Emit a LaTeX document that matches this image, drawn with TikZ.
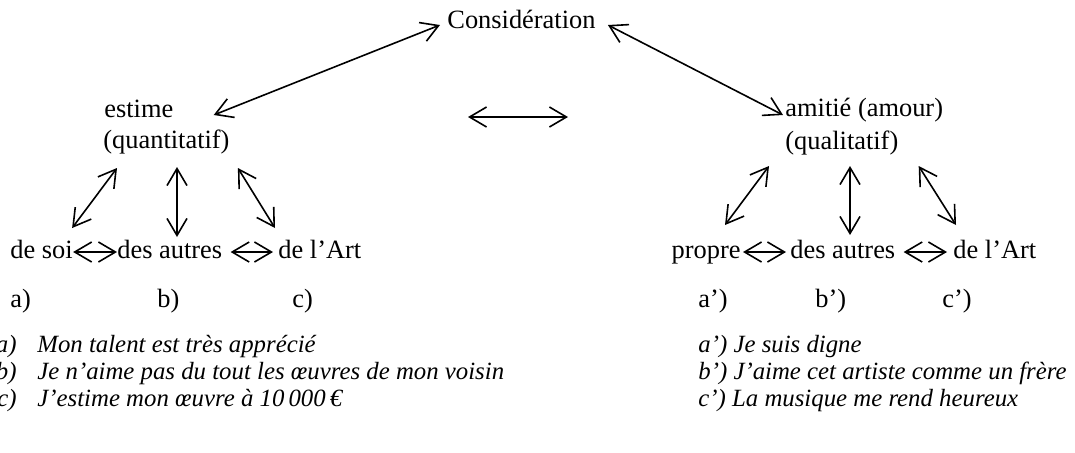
\documentclass[tikz,border=0pt]{standalone}
\usepackage{fontspec}
\setmainfont{Liberation Serif}
\usetikzlibrary{arrows.meta,calc}
\begin{document}
\begin{tikzpicture}[x=0.5pt,y=-0.5pt,
  every node/.style={inner sep=0pt, font=\fontsize{13.2}{16}\selectfont},
  lbl/.style={anchor=base west},
  row/.style={anchor=base west, text height=6pt, text depth=0pt},
  ex/.style={anchor=base west, font=\fontsize{12.4}{16}\selectfont\itshape},
  link/.style={line width=0.8pt,
    {Straight Barb[length=8.5pt,width=10pt]}-{Straight Barb[length=8.5pt,width=10pt]}}]
\useasboundingbox (0,0) rectangle (1075,452);

% top and the two branches
\node[lbl] (cons) at (447,28) {Considération};
\node[lbl] (est) at (104,117) {estime};
\node[lbl] (qt) at (103,148) {(quantitatif)};
\node[lbl] (ami) at (785,116) {amitié (amour)};
\node[lbl] (ql) at (785,149) {(qualitatif)};

% bottom rows
\node[row] (soi) at (10,258) {de soi};
\node[row] (aut) at (117,258) {des autres};
\node[row] (art) at (278,258) {de l’Art};
\node[row, anchor=base east] (pro) at (741,258) {propre};
\node[row] (aut2) at (790,258) {des autres};
\node[row] (art2) at (953,258) {de l’Art};

% letters under the rows
\node[lbl] (la) at (10,307) {a)};
\node[lbl] (lb) at (157,307) {b)};
\node[lbl] (lc) at (292,307) {c)};
\node[lbl] (la2) at (698,307) {a’)};
\node[lbl] (lb2) at (815,307) {b’)};
\node[lbl] (lc2) at (942,307) {c’)};

% examples
\node[ex, anchor=base east] (na) at (17,352) {a)};
\node[ex, anchor=base east] (nb) at (17,379) {b)};
\node[ex, anchor=base east] (nc) at (17,406) {c)};
\node[ex] (ta) at (37,352) {Mon talent est très apprécié};
\node[ex] (tb) at (37,379) {Je n’aime pas du tout les œuvres de mon voisin};
\node[ex] (tc) at (37,406) {J’estime mon œuvre à 10\,000\,€};
\node[ex] (ta2) at (698,352) {a’) Je suis digne};
\node[ex] (tb2) at (698,379) {b’) J’aime cet artiste comme un frère};
\node[ex] (tc2) at (698,406) {c’) La musique me rend heureux};

% free ends of the middle arrow
\coordinate (mL) at (468,117);
\coordinate (mR) at (568,117);

% connectors
\draw[link] ($(est.base east)+(40,-2)$) -- ($(cons.base west)+(-7,-3)$);
\draw[link] ($(cons.base east)+(12,-3)$) -- ($(ami.base west)+(-2,-1)$);
\draw[link] (mL) -- (mR);

\draw[link] ($(soi.base east)+(-1,-30)$) -- ($(qt.base west)+(14,20)$);
\draw[link] ($(qt.base west)+(74,19)$) -- ($(aut.base west)+(60,-21)$);
\draw[link] ($(qt.base east)+(8,20)$) -- ($(art.base west)+(-3,-30)$);

\draw[link] ($(pro.base east)+(-16,-33)$) -- ($(ql.base west)+(-16,17)$);
\draw[link] ($(ql.base west)+(65,17)$) -- ($(aut2.base west)+(60,-23)$);
\draw[link] ($(ql.base east)+(20,17)$) -- ($(art2.base west)+(3,-33)$);

\draw[link] (soi.east) -- (aut.west);
\draw[link, shorten <=4pt, shorten >=2.5pt] (aut.east) -- (art.west);
\draw[link, shorten <=1pt, shorten >=2pt] (pro.east) -- (aut2.west);
\draw[link, shorten <=4pt, shorten >=3pt] (aut2.east) -- (art2.west);
\end{tikzpicture}
\end{document}
